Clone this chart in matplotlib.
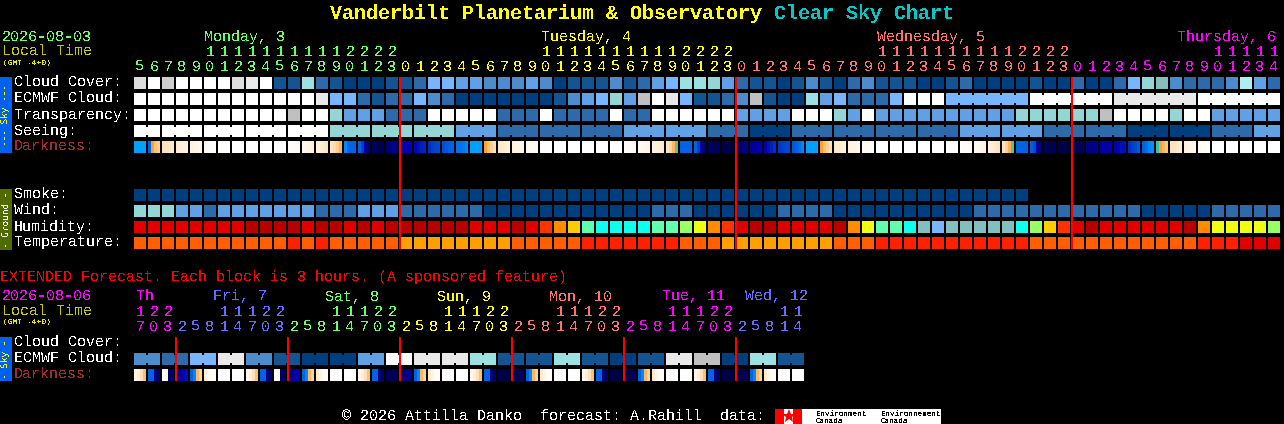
import matplotlib
matplotlib.use("Agg")
import matplotlib.pyplot as plt
from matplotlib.colors import LinearSegmentedColormap

plt.rcParams['font.family'] = ['Liberation Mono', 'DejaVu Sans Mono']
plt.rcParams['text.antialiased'] = False
plt.rcParams['text.hinting'] = 'no_hinting'

# ---------- data ----------
hours = list(range(5, 24)) + list(range(24)) + list(range(24)) + list(range(15))
ext_hours = [17, 20, 23] + [2, 5, 8, 11, 14, 17, 20, 23] * 5 + [2, 5, 8, 11, 14]

cloud_cover = ["G1","W","G3","W","W","W","W","G1","G0","W",
    "B5","B5","T1","B4","B5","B6","B6","B6","B5","B5","B4",
    "B1","B1","B2","B2","B3","B3","B3","B2","B3",
    "B6","B5","B5","B5","B3","B5","B4","B2","B1","T1",
    "T1","T2","B2","B4","B5","B5","B6","B5","B3","B5","B6","B4",
    "B3","B5","B5","B5","B6","B6","B5","B4","B6","B6","B6","B6","B5","B6","B6",
    "B4","B6","B6","B4","B1","T2","T3","B3","B4","B4","B4","B3","T0","B2","B4"]
ecmwf_cloud = ["W"]*13 + ["G0","B1","B1","B4","B5","B4","B4","B1","B3","B4"] + ["B6"]*7 + \
    ["B5","B3","B2","B1","T2","B2","G2","W","G0","B1","B5","B5","B4","B3","G2","B5","B6","B6","T1","B2","B1","B4",
     "B4","B4","B1","W","W","W"] + ["B1"]*6 + ["W"]*6 + ["G0"]*6 + ["W"]*6
transparency = ["W"]*11 + ["G2","W","W","T2","B2","B2","B2","B4","B4","B4"] + ["W"]*5 + ["B4"]*3 + ["W"] + \
    ["B4"]*4 + ["W","B4","B4"] + ["W"]*6 + ["B2"]*4 + ["W"]*3 + ["T2","B2","W"] + ["B2"]*10 + ["T2"]*6 + \
    ["G2"] + ["W"]*4 + ["T2","W","W"] + ["B2"]*5
seeing = ["W"]*14 + ["T2"]*9 + ["B2"]*3 + ["B4"]*9 + ["B2"]*6 + ["B4"]*3 + ["B6"]*3 + ["B4"]*12 + \
    ["B2"]*6 + ["B4"]*6 + ["B6"]*6 + ["B4"]*3 + ["B2"]*2
smoke = ["B6"]*64
wind = ["T2"]*3 + ["B2"]*2 + ["B4"] + ["B2"]*7 + ["B4"]*3 + ["B2"]*3 + ["B4"]*6 + ["B6"]*12 + ["B4"]*3 + \
    ["B6"]*6 + ["B4"]*4 + ["B6"]*10 + ["B4"]*12 + ["B6"]*5 + ["B4"]*5
humidity = ["R1"]*8 + ["R2"]*4 + ["R1","R2","R2","R1","R2","R1"] + ["R2"]*6 + ["R1"]*3 + \
    ["R2","R1","OR","AM","YL","MT"] + ["CY"]*4 + ["MT","MT","LG","LY","AM","OR","R1","R2","R2"] + ["R1"]*4 + \
    ["R2","AM","LY","MT","MT","CY","T3","B1"] + ["T3"]*5 + ["CY","LG","YL","OR","R1","R2"] + ["R1"]*6 + \
    ["R2","AM"] + ["LY"]*4 + ["LG"]
temperature = ["F1"]*11 + ["F2","F1","F2"] + ["F1"]*5 + ["F3"]*8 + ["F1"]*5 + ["F2"]*7 + ["F1"]*3 + ["F3"]*8 + \
    ["F1"]*3 + ["F2"]*11 + ["F1"]*12 + ["F2"]*3 + ["F4"]*3
ext_ecmwf = ["B3","B4","B1","G0","B3","B5","B6","B6","B2","W","G0","G0",
             "T1","B5","B5","T1","B5","B6","B5","G0","G2","B6","T1","B5"]

NIGHT = [1.0]*4
DAY = [0.0]*4
darkness = [[.6]*4, [.65,.5,.42,.36], [.3,.28,.26,.24], [.22,.2,.19,.17], [.16,.14,.12,.1], [.08,.05,.03,.02],
    DAY, DAY, DAY, DAY, DAY, [.03,.05,.07,.09], [.1,.12,.15,.17], [.18,.2,.23,.26], [.28,.32,.38,.46],
    [.62,.65,.65,.65], [.65,.72,.85,.92], [.95,.97,.98,.98], [.92,.9,.88,.86], [.84,.82,.8,.8],
    [.79,.78,.76,.75], [.74,.72,.71,.7], [.69,.67,.66,.65], [.64,.64,.63,.62], [.6]*4,
    [.5,.42,.36,.3], [.26,.22,.2,.18], [.16,.14,.13,.12], [.1,.08,.06,.04], [.03,.02,.01,0],
    DAY, DAY, DAY, DAY, DAY, [.02,.04,.05,.07], [.08,.1,.12,.14], [.16,.18,.2,.24], [.28,.34,.44,.54],
    [.65]*4, [.65,.72,.85,.93], [.96]*4, NIGHT, [.96,.94,.9,.88], [.86,.84,.82,.8], [.8,.78,.76,.74],
    [.73,.72,.71,.7], [.67,.65,.64,.62], [.6]*4, [.5,.42,.36,.3], [.26,.23,.2,.18], [.16,.14,.13,.11],
    [.09,.07,.05,.03], DAY, DAY, DAY, DAY, DAY, DAY, [.02,.04,.06,.08], [.08,.1,.12,.15], [.18,.2,.24,.28],
    [.3,.36,.46,.55], [.65]*4, [.66,.7,.85,.92], [.97]*4, NIGHT, [.97]*4, [.88]*4, [.82]*4,
    [.8,.79,.78,.78], [.74,.72,.7,.67], [.66,.64,.62,.61], [.56,.5,.45,.4], [.3,.27,.24,.22],
    [.16,.14,.12,.1], [.08,.06,.04,.02], DAY, DAY, DAY, DAY, DAY]
DUSK = [.1,.2,.3,.42]
EVE = [.65,.65,.9,.96]
DAWN = [.65,.62,.44,.35]
MORN = [.22,.14,.08,.04]
ext_darkness = [[.12,.2,.3,.42], [.65,.65,.88,.95], [1,1,.96,.9], [.88,.84,.8,.78], DAWN, [.2,.1,.06,.03], DAY, DAY,
    DUSK, [.65,.65,.88,.96], [1,1,.96,.96], [.9,.86,.82,.8], DAWN, MORN, DAY, DAY,
    DUSK, EVE, [.98,.98,.96,.96], [.94,.9,.88,.88], DAWN, MORN, DAY, DAY,
    DUSK, EVE, NIGHT, [.96]*4, DAWN, MORN, DAY, DAY,
    DUSK, EVE, NIGHT, [.98]*4, DAWN, MORN, DAY, DAY,
    DUSK, EVE, NIGHT, [.98]*4, DAWN, MORN, DAY, DAY]

main_days = ["Monday, 3", "Tuesday, 4", "Wednesday, 5", "Thursday, 6"]
ext_days = ["Th", "Fri, 7", "Sat, 8", "Sun, 9", "Mon, 10", "Tue, 11", "Wed, 12"]

# ---------- styles ----------
PAL = dict(W="#ffffff", G0="#e9e9e9", G1="#dddddd", G3="#cfcfcf", G2="#c0c0c0",
           T0="#aeeeee", T1="#9be1e1", T2="#94d5d5", T3="#84bfbf",
           B1="#77b5fe", B2="#60a0e4", B3="#4d8ccc", B4="#2c6aa9", B5="#135493", B6="#003f7f",
           R1="#e00000", R2="#b80000", OR="#ff3300", AM="#ff8c00", YL="#ffcc00", LY="#eeff11",
           LG="#99ff66", MT="#5fffaf", CY="#0fffef",
           F1="#ff5f00", F2="#ff2000", F3="#ffa000", F4="#e00000")
DARK = LinearSegmentedColormap.from_list("dark", [
    (0, "#ffffff"), (.1, "#fff8ee"), (.2, "#ffefd6"), (.3, "#ffe0b8"), (.4, "#ffc880"), (.5, "#ffa030"),
    (.55, "#46c8a0"), (.6, "#00a0ff"), (.65, "#0064e6"), (.72, "#0040c8"), (.8, "#0000b0"),
    (.88, "#00008c"), (.95, "#000060"), (1, "#000048")])
DAY_COL = {"green": "#66ff66", "yellow": "#ffff00", "pink": "#ff7070", "mag": "#ff00ff", "blue": "#6a6aff"}
X0, PITCH, SIZE = 134, 14, 12
PX = 15 * 0.72          # pt for a 15 px font at 100 dpi

fig = plt.figure(figsize=(12.84, 4.24), dpi=100, facecolor="black")
ax = fig.add_axes([0, 0, 1, 1])
ax.set_xlim(0, 1284)
ax.set_ylim(424, 0)
ax.axis("off")


def block_x(i):
    return X0 + PITCH * i


def txt(x, y, s, color, size=PX, **kw):
    ax.text(x, y, s, color=color, fontsize=size, va="baseline", ha=kw.pop("ha", "left"), **kw)


def row(values, top, groups=None):
    xs = [block_x(i) for i in range(len(values))]
    cols = [PAL[v] for v in values]
    ax.bar(xs, [SIZE]*len(xs), width=SIZE, bottom=top, align="edge", color=cols, linewidth=0, antialiased=False)
    if groups:
        start = 0
        for g in groups:
            if g > 1:
                for i in range(start, start + g - 1):
                    ax.bar(block_x(i) + SIZE, SIZE - 4, width=PITCH - SIZE, bottom=top + 2, align="edge",
                           color=cols[i], linewidth=0, antialiased=False)
            start += g


def dark_row(values, top):
    for i, samples in enumerate(values):
        w = SIZE / len(samples)
        for k, v in enumerate(samples):
            ax.bar(block_x(i) + k * w, SIZE, width=w, bottom=top, align="edge",
                   color=DARK(v), linewidth=0, antialiased=False)


def hour_labels(hrs, colors, y_tens, y_units):
    for i, (h, c) in enumerate(zip(hrs, colors)):
        cx = block_x(i) + SIZE / 2
        txt(cx, y_units, str(h % 10), c, ha="center")
        if h >= 10:
            txt(cx, y_tens, str(h // 10), c, ha="center")


def side_label(ytop, height, color, text_color, label):
    ax.bar(0, height, width=12, bottom=ytop, align="edge", color=color, linewidth=0, antialiased=False)
    ax.text(6, ytop + height / 2, label, color=text_color, fontsize=9.4*0.72, rotation=90,
            ha="center", va="center", family="DejaVu Sans Mono")


# ---------- title ----------
txt(330, 19, "Vanderbilt Planetarium & Observatory", "#ffff00", size=20*0.72, fontweight="bold")
txt(774, 19, "Clear Sky Chart", "#00c8c8", size=20*0.72, fontweight="bold")

# ---------- main chart ----------
txt(2, 41, "2026-08-03", DAY_COL["green"])
txt(2, 56, "Local Time", "#c8c800")
txt(3, 65, "(GMT -4+0)", "#e8e800", size=8*0.72)
for x, name, c in zip([204, 541, 877, 1177], main_days, ["green", "yellow", "pink", "mag"]):
    txt(x, 41, name, DAY_COL[c])

main_cols = []
names = ["green", "yellow", "pink", "mag"]
d = 0
for i, h in enumerate(hours):
    if i and h == 0:
        d += 1
    main_cols.append(DAY_COL[names[d]])
hour_labels(hours, main_cols, 56, 71)

labels = [("Cloud Cover:", 87, "#ffffff"), ("ECMWF Cloud:", 103, "#ffffff"), ("Transparency:", 119, "#ffffff"),
          ("Seeing:", 135, "#ffffff"), ("Darkness:", 151, "#a52a2a"),
          ("Smoke:", 199, "#ffffff"), ("Wind:", 215, "#ffffff"), ("Humidity:", 231, "#ffffff"),
          ("Temperature:", 247, "#ffffff")]
for s, y, c in labels:
    txt(14, y, s, c)

row(cloud_cover, 77)
row(ecmwf_cloud, 93, groups=[1]*58 + [6]*4)
row(transparency, 109)
row(seeing, 125, groups=[2] + [3]*26 + [2])
dark_row(darkness, 141)
row(smoke, 189)
row(wind, 205)
row(humidity, 221)
row(temperature, 237)

side_label(77, 76, "#0060f0", "#ffff00", "--- Sky ---")
side_label(189, 61, "#506b00", "#ffffff", "- Ground -")

for x in [block_x(19), block_x(43), block_x(67)]:
    ax.bar(x - 1, 172, width=2, bottom=77, align="edge", color="#ff0000", linewidth=0, antialiased=False, zorder=5)

# ---------- extended ----------
txt(0, 281, "EXTENDED Forecast. Each block is 3 hours. (A sponsored feature)", "#ff0000")
txt(2, 300, "2026-08-06", DAY_COL["mag"])
txt(2, 316, "Local Time", "#c8c800")
txt(3, 324, "(GMT -4+0)", "#e8e800", size=8*0.72)
ext_names = ["mag", "blue", "green", "yellow", "pink", "mag", "blue"]
for x, name, c in zip([136, 213, 325, 437, 549, 662, 745], ext_days, ext_names):
    txt(x, 300, name, DAY_COL[c])
ext_cols = []
d = 0
for i, h in enumerate(ext_hours):
    if i and h < ext_hours[i - 1]:
        d += 1
    ext_cols.append(DAY_COL[ext_names[d]])
hour_labels(ext_hours, ext_cols, 316, 331)

for s, y, c in [("Cloud Cover:", 347, "#ffffff"), ("ECMWF Cloud:", 363, "#ffffff"), ("Darkness:", 379, "#a52a2a")]:
    txt(14, y, s, c)

row([v for v in ext_ecmwf for _ in range(2)], 353, groups=[2]*24)
dark_row(ext_darkness, 369)
side_label(337, 44, "#0060f0", "#ffff00", "- Sky -")
for k in range(6):
    ax.bar(block_x(3 + 8 * k) - 1, 44, width=2, bottom=337, align="edge", color="#ff0000", linewidth=0,
           antialiased=False, zorder=5)

# ---------- footer ----------
txt(342, 421, "\u00a9 2026 Attilla Danko  forecast: A.Rahill  data:", "#ffffff")
ax.bar(775, 15, width=166, bottom=409, align="edge", color="#ffffff", linewidth=0, antialiased=False)
ax.bar(775, 15, width=9, bottom=409, align="edge", color="#ff0000", linewidth=0, antialiased=False)
ax.bar(793, 15, width=9, bottom=409, align="edge", color="#ff0000", linewidth=0, antialiased=False)
ax.plot([788.5], [416], marker="*", color="#ff0000", markersize=10, markeredgewidth=0, linestyle="none")
for x, a in [(816, "Environment"), (881, "Environnement")]:
    txt(x, 416, a, "#000000", size=7.6*0.72)
    txt(x, 423, "Canada", "#000000", size=7.6*0.72)

fig.savefig("out.png", dpi=100, facecolor="black")
